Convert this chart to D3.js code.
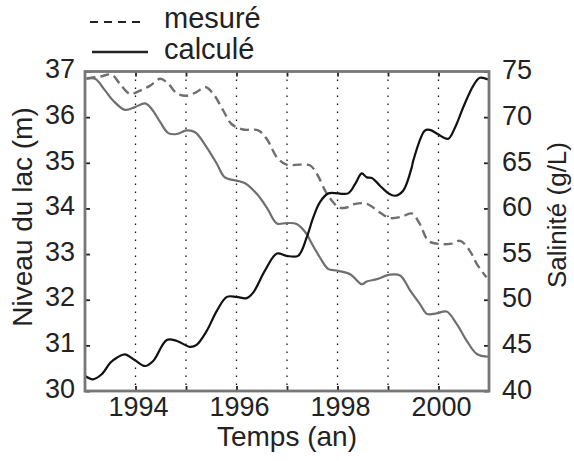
<!DOCTYPE html>
<html><head><meta charset="utf-8">
<script src="https://cdn.jsdelivr.net/npm/d3@7"></script>
<style>
html,body{margin:0;padding:0;background:#fff;}
svg{display:block;font-family:"Liberation Sans",Arial,Helvetica,sans-serif;}
</style></head>
<body>
<svg id="c" width="574" height="461"></svg>
<script>
// ---- data ----
const calcLevelYears = [1993.03,1993.20,1993.40,1993.56,1993.79,1993.99,1994.19,1994.32,1994.49,1994.65,1994.82,1995.01,1995.18,1995.41,1995.61,1995.77,1996.00,1996.17,1996.40,1996.60,1996.80,1996.99,1997.19,1997.39,1997.46,1997.65,1997.82,1997.98,1998.25,1998.48,1998.58,1998.78,1999.04,1999.24,1999.44,1999.63,1999.77,1999.96,2000.16,2000.36,2000.56,2000.76,2000.99];
const calcLevel = [36.84,36.84,36.58,36.36,36.16,36.22,36.30,36.18,35.89,35.65,35.63,35.71,35.67,35.34,34.98,34.68,34.61,34.55,34.32,34.02,33.67,33.68,33.66,33.44,33.29,32.93,32.67,32.64,32.56,32.34,32.40,32.45,32.55,32.53,32.20,31.91,31.69,31.70,31.74,31.47,31.10,30.81,30.75];

const measLevelYears = [1993.03,1993.30,1993.53,1993.69,1993.89,1994.09,1994.29,1994.49,1994.65,1994.82,1995.01,1995.21,1995.38,1995.54,1995.74,1995.90,1996.13,1996.43,1996.60,1996.80,1996.99,1997.26,1997.46,1997.59,1997.79,1997.92,1998.02,1998.18,1998.35,1998.58,1998.84,1999.04,1999.27,1999.47,1999.63,1999.80,2000.03,2000.26,2000.43,2000.62,2000.76,2000.95];
const measLevel = [36.85,36.89,36.93,36.73,36.51,36.58,36.69,36.84,36.73,36.52,36.47,36.55,36.66,36.51,36.14,35.85,35.73,35.71,35.52,35.12,34.96,34.96,34.94,34.76,34.32,34.13,34.02,34.02,34.10,34.10,33.91,33.79,33.82,33.89,33.66,33.29,33.22,33.23,33.29,33.07,32.78,32.49];

const calcSalYears = [1993.00,1993.16,1993.33,1993.50,1993.63,1993.79,1993.99,1994.19,1994.35,1994.62,1994.82,1995.08,1995.21,1995.41,1995.61,1995.81,1996.00,1996.20,1996.33,1996.56,1996.80,1996.99,1997.22,1997.39,1997.52,1997.65,1997.82,1998.21,1998.35,1998.48,1998.58,1998.68,1998.84,1999.01,1999.14,1999.30,1999.47,1999.50,1999.73,1999.83,2000.00,2000.19,2000.33,2000.49,2000.69,2000.82,2000.98];
const calcSal = [41.64,41.28,41.83,43.10,43.65,44.02,43.37,42.74,43.29,45.59,45.48,44.83,45.05,46.58,48.78,50.31,50.31,50.17,50.78,53.16,55.06,54.81,54.81,56.82,59.01,60.66,61.65,61.65,62.68,63.84,63.40,63.34,62.49,61.65,61.39,61.94,64.50,65.23,68.53,68.60,68.09,67.62,68.89,71.08,73.46,74.31,74.12];

const yearTicks = [1994,1995,1996,1997,1998,1999,2000];
const yearLabels = [1994,1996,1998,2000];
const levelTicks = [30,31,32,33,34,35,36,37];
const salTicks = [40,45,50,55,60,65,70,75];
const legendLabels = ["mesuré","calculé"];

// ---- layout ----
const L=85, R=489, T=71.5, B=391;
const svg = d3.select("#c");
const x = d3.scaleLinear().domain([1993,2001]).range([L,R]);
const yL = d3.scaleLinear().domain([30,37]).range([B,T]);
const yR = d3.scaleLinear().domain([40,75]).range([B,T]);
const txt = "#222";
const FS = 27;

// grid (dotted verticals)
svg.append("g").selectAll("line").data(yearTicks).join("line")
  .attr("x1",d=>x(d)).attr("x2",d=>x(d)).attr("y1",T).attr("y2",B)
  .attr("stroke","#111").attr("stroke-width",1.3).attr("stroke-dasharray","1.5,6.5");

// lines
const curve = d3.curveCatmullRom.alpha(0.5);
const mk = (xs, ys, sc) => d3.line().curve(curve).x((d,i)=>x(xs[i])).y(d=>sc(d));

svg.append("path").attr("d", mk(measLevelYears, measLevel, yL)(measLevel))
  .attr("fill","none").attr("stroke","#6f6f6f").attr("stroke-width",2.4).attr("stroke-dasharray","9,5");
svg.append("path").attr("d", mk(calcLevelYears, calcLevel, yL)(calcLevel))
  .attr("fill","none").attr("stroke","#6f6f6f").attr("stroke-width",2.2);
svg.append("path").attr("d", mk(calcSalYears, calcSal, yR)(calcSal))
  .attr("fill","none").attr("stroke","#111").attr("stroke-width",2.2);

// axes with inward ticks
const axL = d3.axisLeft(yL).tickValues(levelTicks).tickSize(-5).tickFormat("");
const axR = d3.axisRight(yR).tickValues(salTicks).tickSize(-5).tickFormat("");
const axB = d3.axisBottom(x).tickValues(yearTicks).tickSize(-5).tickFormat("");
const axT = d3.axisTop(x).tickValues(yearTicks).tickSize(-5).tickFormat("");
function styleAx(g){ g.select(".domain").remove(); g.selectAll(".tick line").attr("stroke","#222").attr("stroke-width",1.8); }
svg.append("g").attr("transform",`translate(${L},0)`).call(axL).call(styleAx);
svg.append("g").attr("transform",`translate(${R},0)`).call(axR).call(styleAx);
svg.append("g").attr("transform",`translate(0,${B})`).call(axB).call(styleAx);
svg.append("g").attr("transform",`translate(0,${T})`).call(axT).call(styleAx);

// frame
svg.append("rect").attr("x",L).attr("y",T).attr("width",R-L).attr("height",B-T)
  .attr("fill","none").attr("stroke","#777").attr("stroke-width",2.8);

// tick labels
svg.append("g").selectAll("text").data(levelTicks).join("text")
  .attr("x",L-10).attr("y",d=>yL(d)-3).attr("dy","0.36em").attr("text-anchor","end")
  .attr("font-size",FS).attr("fill",txt).text(d=>d);
svg.append("g").selectAll("text").data(salTicks).join("text")
  .attr("x",R+13).attr("y",d=>yR(d)-2).attr("dy","0.36em").attr("text-anchor","start")
  .attr("font-size",FS).attr("fill",txt).text(d=>d);
svg.append("g").selectAll("text").data(yearLabels).join("text")
  .attr("x",d=>x(d)+3).attr("y",416).attr("text-anchor","middle")
  .attr("font-size",FS).attr("fill",txt).text(d=>d);

// axis titles
svg.append("text").attr("x",287).attr("y",446).attr("text-anchor","middle")
  .attr("font-size",28).attr("fill",txt).text("Temps (an)");
svg.append("text").attr("transform","translate(32,217) rotate(-90)").attr("text-anchor","middle")
  .attr("font-size",28).attr("fill",txt).text("Niveau du lac (m)");
svg.append("text").attr("transform","translate(566,215) rotate(-90)").attr("text-anchor","middle")
  .attr("font-size",26).attr("fill",txt).text("Salinité (g/L)");

// legend
svg.append("line").attr("x1",90).attr("x2",143).attr("y1",22).attr("y2",22)
  .attr("stroke","#222").attr("stroke-width",2.2).attr("stroke-dasharray","8,6");
svg.append("line").attr("x1",92).attr("x2",148).attr("y1",52).attr("y2",52)
  .attr("stroke","#222").attr("stroke-width",2.4);
svg.append("text").attr("x",164).attr("y",28).attr("font-size",29).attr("fill",txt).text(legendLabels[0]);
svg.append("text").attr("x",164).attr("y",59).attr("font-size",29).attr("fill",txt).text(legendLabels[1]);
</script>
</body></html>
